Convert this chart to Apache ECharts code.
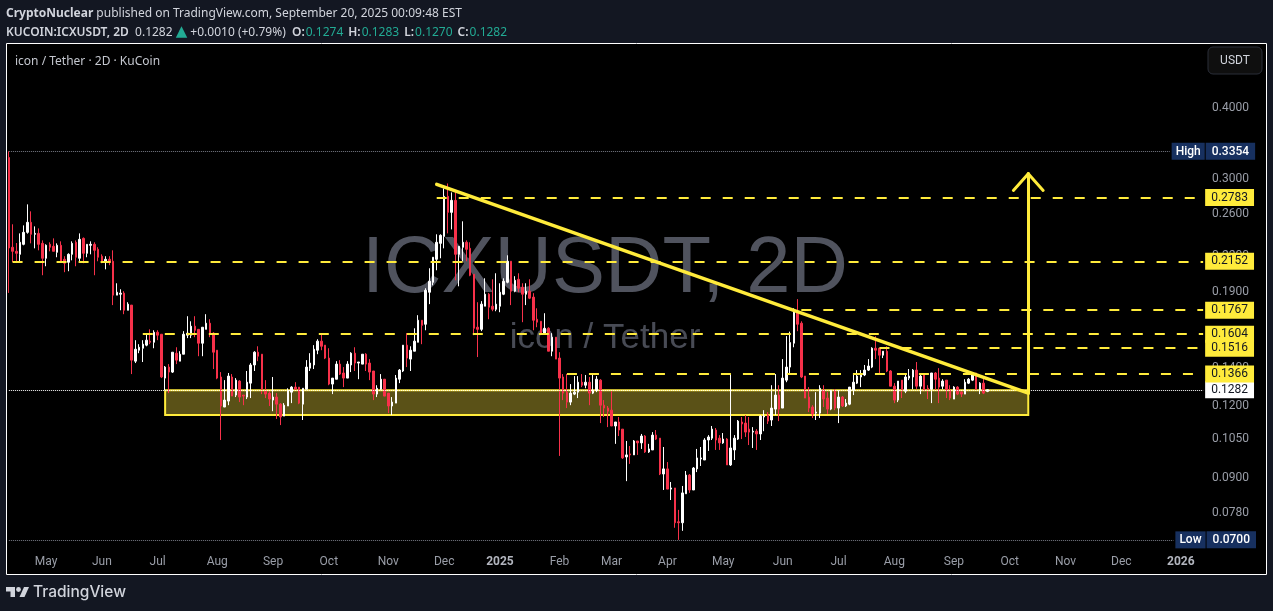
<!DOCTYPE html>
<html>
<head>
<meta charset="utf-8">
<title>ICXUSDT 2D</title>
<script src="https://cdn.jsdelivr.net/npm/echarts@6/dist/echarts.min.js"></script>
<style>
    html, body { margin: 0; padding: 0; background: #131722; }
    #chart { width: 1273px; height: 611px; }
</style>
</head>
<body>
<div id="chart"></div>
<script>
// 2D bars, oldest first
const opens = [
    .3272,.2278,.2241,.2214,.2305,.2419,.2519,.2400,.2409,.2314,
    .2179,.2305,.2287,.2232,.2296,.2170,.2144,.2214,.2324,.2179,
    .2361,.2223,.2296,.2305,.2259,.2197,.2144,.2170,.2153,.1878,
    .1885,.1893,.1767,.1804,.1439,.1504,.1516,.1535,.1560,.1553,
    .1617,.1604,.1344,.1405,.1377,.1486,.1439,.1480,.1598,.1598,
    .1657,.1636,.1547,.1636,.1677,.1611,.1504,.1350,.1196,.1225,
    .1350,.1255,.1328,.1255,.1245,.1317,.1417,.1492,.1480,.1275,
    .1265,.1230,.1245,.1210,.1153,.1201,.1270,.1296,.1296,.1210,
    .1285,.1399,.1417,.1504,.1560,.1535,.1457,.1312,.1338,.1422,
    .1372,.1344,.1417,.1486,.1428,.1422,.1480,.1428,.1383,.1260,
    .1285,.1338,.1265,.1201,.1215,.1338,.1383,.1535,.1451,.1498,
    .1553,.1697,.1670,.1900,.1978,.2170,.2314,.2380,.2797,.2622,
    .2752,.2214,.2278,.2324,.2268,.2043,.1650,.1636,.1796,.1885,
    .1796,.1774,.1796,.1885,.1978,.2153,.1908,.2002,.1938,.1885,
    .1908,.1863,.1704,.1690,.1604,.1643,.1498,.1585,.1457,.1350,
    .1270,.1220,.1260,.1270,.1322,.1306,.1322,.1265,.1280,.1333,
    .1205,.1191,.1181,.1108,.1126,.1094,.0978,.0990,.0986,.1043,
    .1035,.1064,.0998,.1006,.1068,.1055,.0913,.0932,.0859,.0863,
    .0753,.0750,.0843,.0909,.0856,.0932,.0970,.0966,.1047,.1055,
    .1090,.1055,.1035,.1051,.0947,.1006,.1051,.1126,.1121,.1094,
    .1081,.1085,.1073,.1149,.1158,.1135,.1186,.1255,.1191,.1333,
    .1405,.1547,.1760,.1677,.1355,.1245,.1196,.1167,.1167,.1280,
    .1240,.1186,.1280,.1191,.1245,.1201,.1210,.1280,.1317,.1350,
    .1361,.1388,.1405,.1516,.1516,.1474,.1498,.1383,.1301,.1230,
    .1333,.1275,.1344,.1350,.1388,.1301,.1361,.1290,.1285,.1372,
    .1344,.1301,.1333,.1280,.1235,.1296,.1270,.1260,.1317,.1333,
    .1372,.1280,.1317,.1274
];
const closes = [
    .2271,.2241,.2223,.2324,.2419,.2519,.2400,.2409,.2305,.2179,
    .2296,.2278,.2241,.2296,.2153,.2136,.2214,.2314,.2188,.2352,
    .2223,.2305,.2305,.2250,.2188,.2153,.2170,.2144,.1878,.1900,
    .1893,.1767,.1811,.1445,.1510,.1522,.1541,.1566,.1553,.1617,
    .1598,.1350,.1405,.1377,.1492,.1445,.1480,.1604,.1611,.1657,
    .1630,.1547,.1650,.1677,.1604,.1492,.1344,.1201,.1230,.1355,
    .1250,.1333,.1245,.1250,.1322,.1417,.1492,.1468,.1285,.1260,
    .1235,.1245,.1210,.1149,.1205,.1280,.1296,.1285,.1215,.1290,
    .1405,.1428,.1510,.1560,.1528,.1457,.1312,.1344,.1422,.1366,
    .1344,.1422,.1486,.1428,.1434,.1480,.1422,.1377,.1260,.1290,
    .1338,.1250,.1201,.1220,.1344,.1388,.1535,.1457,.1504,.1560,
    .1697,.1663,.1915,.1986,.2188,.2324,.2390,.2797,.2622,.2752,
    .2214,.2287,.2324,.2259,.2035,.1643,.1636,.1811,.1885,.1789,
    .1774,.1811,.1900,.1986,.2153,.1908,.1994,.1931,.1885,.1908,
    .1855,.1697,.1684,.1611,.1643,.1498,.1585,.1451,.1344,.1265,
    .1220,.1265,.1270,.1322,.1306,.1322,.1265,.1280,.1338,.1205,
    .1191,.1176,.1108,.1126,.1090,.0974,.0986,.0986,.1043,.1035,
    .1064,.0998,.1010,.1068,.1051,.0913,.0932,.0859,.0863,.0750,
    .0750,.0846,.0909,.0856,.0935,.0974,.0974,.1047,.1060,.1094,
    .1047,.1035,.1051,.0947,.1014,.1055,.1130,.1117,.1081,.1081,
    .1085,.1073,.1153,.1153,.1130,.1191,.1255,.1186,.1344,.1405,
    .1551,.1755,.1670,.1350,.1240,.1191,.1163,.1172,.1290,.1235,
    .1186,.1280,.1191,.1245,.1201,.1215,.1296,.1322,.1355,.1366,
    .1388,.1411,.1516,.1504,.1474,.1498,.1383,.1301,.1230,.1328,
    .1280,.1350,.1355,.1388,.1301,.1355,.1280,.1285,.1372,.1338,
    .1296,.1328,.1280,.1240,.1296,.1260,.1260,.1322,.1338,.1361,
    .1285,.1317,.1265,.1282
];
const lows = [
    .1895,.2146,.2138,.2143,.2296,.2406,.2314,.2268,.2250,.2035,
    .2110,.2241,.2241,.2188,.2153,.2060,.2068,.2161,.2110,.2153,
    .2136,.2188,.2214,.2035,.2153,.2136,.2084,.2119,.1804,.1878,
    .1767,.1739,.1767,.1366,.1428,.1486,.1434,.1528,.1541,.1516,
    .1566,.1344,.1280,.1265,.1372,.1422,.1439,.1480,.1579,.1579,
    .1585,.1468,.1468,.1636,.1585,.1394,.1338,.1047,.1196,.1205,
    .1250,.1245,.1220,.1205,.1235,.1240,.1383,.1439,.1260,.1240,
    .1201,.1176,.1140,.1112,.1153,.1201,.1215,.1280,.1210,.1135,
    .1285,.1383,.1394,.1480,.1504,.1451,.1306,.1260,.1338,.1361,
    .1296,.1344,.1377,.1383,.1338,.1422,.1383,.1333,.1230,.1245,
    .1280,.1250,.1167,.1158,.1215,.1317,.1377,.1405,.1383,.1498,
    .1553,.1541,.1630,.1811,.1954,.2076,.2179,.2268,.2409,.2448,
    .1994,.1946,.2153,.2153,.2027,.1598,.1463,.1624,.1796,.1704,
    .1760,.1760,.1753,.1878,.1970,.1804,.1900,.1900,.1684,.1804,
    .1848,.1630,.1650,.1598,.1604,.1498,.1468,.1451,.0982,.1230,
    .1191,.1205,.1255,.1240,.1296,.1290,.1205,.1260,.1270,.1121,
    .1149,.1103,.1108,.1031,.1064,.0970,.0887,.0951,.0986,.0986,
    .1010,.0994,.0994,.1006,.1047,.0909,.0856,.0859,.0822,.0735,
    .0700,.0726,.0843,.0846,.0856,.0920,.0943,.0966,.1002,.1047,
    .1006,.1006,.1031,.0947,.0943,.0966,.1047,.1051,.1060,.1026,
    .1014,.1006,.1047,.1085,.1117,.1108,.1158,.1130,.1191,.1322,
    .1372,.1522,.1624,.1344,.1240,.1172,.1144,.1135,.1144,.1196,
    .1163,.1181,.1181,.1121,.1196,.1196,.1205,.1255,.1312,.1296,
    .1355,.1383,.1399,.1451,.1372,.1457,.1377,.1301,.1215,.1220,
    .1240,.1265,.1333,.1285,.1285,.1260,.1275,.1235,.1215,.1280,
    .1215,.1285,.1240,.1230,.1235,.1255,.1245,.1260,.1312,.1328,
    .1280,.1260,.1260,.1270
];
const highs = [
    .3354,.2499,.2317,.2409,.2488,.2708,.2633,.2478,.2458,.2342,
    .2305,.2324,.2361,.2314,.2333,.2197,.2223,.2333,.2342,.2409,
    .2370,.2305,.2333,.2324,.2278,.2214,.2197,.2197,.2250,.1970,
    .1923,.1908,.1825,.1804,.1566,.1541,.1566,.1604,.1636,.1630,
    .1630,.1604,.1411,.1422,.1492,.1522,.1498,.1624,.1725,.1690,
    .1725,.1636,.1650,.1739,.1704,.1617,.1504,.1377,.1333,.1372,
    .1366,.1344,.1333,.1255,.1383,.1428,.1498,.1528,.1480,.1333,
    .1275,.1350,.1265,.1215,.1215,.1290,.1301,.1322,.1296,.1290,
    .1445,.1486,.1535,.1572,.1604,.1535,.1516,.1344,.1439,.1445,
    .1405,.1439,.1492,.1522,.1434,.1480,.1486,.1451,.1383,.1306,
    .1366,.1338,.1265,.1245,.1361,.1394,.1535,.1611,.1528,.1643,
    .1732,.1697,.1931,.2093,.2188,.2400,.2400,.2888,.2946,.2842,
    .2854,.2287,.2529,.2342,.2324,.2043,.1825,.1833,.2010,.1893,
    .2002,.2051,.1970,.2010,.2205,.2153,.2027,.2051,.1970,.1970,
    .2002,.1893,.1781,.1690,.1746,.1650,.1611,.1585,.1492,.1366,
    .1366,.1312,.1355,.1355,.1366,.1361,.1350,.1361,.1355,.1338,
    .1230,.1201,.1275,.1126,.1149,.1094,.1043,.1022,.1047,.1043,
    .1073,.1068,.1031,.1081,.1090,.1055,.1018,.0958,.0884,.0863,
    .0790,.0870,.0924,.0913,.0939,.1010,.1018,.1055,.1068,.1108,
    .1099,.1068,.1077,.1055,.1366,.1068,.1135,.1149,.1158,.1149,
    .1103,.1094,.1158,.1181,.1172,.1306,.1366,.1306,.1451,.1592,
    .1621,.1781,.1848,.1690,.1355,.1296,.1205,.1270,.1306,.1306,
    .1270,.1280,.1285,.1280,.1250,.1235,.1296,.1372,.1388,.1388,
    .1417,.1451,.1522,.1591,.1516,.1498,.1528,.1388,.1317,.1328,
    .1333,.1361,.1394,.1394,.1434,.1361,.1366,.1306,.1372,.1377,
    .1399,.1338,.1333,.1306,.1301,.1301,.1275,.1338,.1344,.1372,
    .1372,.1322,.1344,.1283
];

// time axis: one slot per 2 days, running on past the last bar
const firstBarDate = '2024-04-12';
const slotCount = 322;
const tickDates = ['2024-05-02','2024-06-01','2024-07-01','2024-08-02','2024-09-01','2024-10-01','2024-11-02','2024-12-02',
    '2025-01-01','2025-02-02','2025-03-02','2025-04-01','2025-05-01','2025-06-02','2025-07-02','2025-08-01','2025-09-02',
    '2025-10-02','2025-11-01','2025-12-01','2026-01-02'];
const tickLabels = ['May','Jun','Jul','Aug','Sep','Oct','Nov','Dec','2025','Feb','Mar','Apr','May','Jun','Jul','Aug','Sep','Oct','Nov','Dec','2026'];

// price axis
const priceTicks = [0.4, 0.3, 0.26, 0.22, 0.19, 0.14, 0.12, 0.105, 0.09, 0.078];

// drawn levels
const levelPrices = [0.2783, 0.2152, 0.1767, 0.1604, 0.1516, 0.1366];
const levelStartBars = [115, 1, 213, 36, 234, 150];
const lastPrice = 0.1282;
const highPrice = 0.3354;
const lowPrice = 0.07;

// support zone, trend line and target arrow, as [bar, price]
const zoneBars = [42, 274];
const zonePrices = [0.1280, 0.1158];
const trendLine = [[115, 0.2935], [274, 0.1265]];
const arrowShaft = [[274, 0.1265], [274, 0.3065]];
const arrowHeadLeft = [[270, 0.2865], [274, 0.3065]];
const arrowHeadRight = [[278, 0.2865], [274, 0.3065]];

const categories = [];
for (let i = 0; i < slotCount; i++) {
    categories.push(new Date(Date.parse(firstBarDate) + i * 2 * 86400000).toISOString().slice(0, 10));
}
const lastSlot = categories[slotCount - 1];

const YELLOW = '#ffeb3b';
const TEXT = '#d1d4dc';
const GREEN = '#22ab94';
const candles = opens.map((o, i) => [o, closes[i], lows[i], highs[i]]);

function yellowSegment(pair, width) {
    return [
        {xAxis: categories[pair[0][0]], yAxis: pair[0][1], lineStyle: {color: YELLOW, width: width, type: 'solid', cap: 'round'}, label: {show: false}},
        {xAxis: categories[pair[1][0]], yAxis: pair[1][1]}
    ];
}

function priceTag(text, bg, fg) {
    return {
        show: true, position: 'end', distance: 2, formatter: text,
        color: fg, backgroundColor: bg, padding: [3, 6, 2, 6],
        fontFamily: 'Roboto', fontSize: 12, lineHeight: 12
    };
}

function extremeTag(name, value) {
    return {
        show: true, position: 'end', distance: 2,
        formatter: '{n|' + name + '}{g|}{v|' + value + '}',
        rich: {
            n: {backgroundColor: '#17305f', color: '#fff', fontFamily: 'Roboto', fontSize: 12, fontWeight: 500, padding: [3, 4, 2, 4], lineHeight: 12},
            g: {width: 1},
            v: {backgroundColor: '#17305f', color: '#fff', fontFamily: 'Roboto', fontSize: 12, fontWeight: 500, padding: [3, 6, 2, 6], lineHeight: 12}
        }
    };
}

const levelLines = levelPrices.map((p, i) => [
    {xAxis: categories[levelStartBars[i]], yAxis: p, lineStyle: {color: YELLOW, width: 2, type: [10, 12]},
        label: priceTag(p.toFixed(4), YELLOW, '#131722')},
    {xAxis: lastSlot, yAxis: p}
]);

const option = {
    backgroundColor: '#131722',
    animation: false,
    grid: {left: 7, right: 68, top: 44, bottom: 37},
    xAxis: {
        type: 'category',
        data: categories,
        boundaryGap: true,
        axisLine: {show: false},
        axisTick: {show: false},
        splitLine: {show: false},
        axisLabel: {
            inside: true,
            margin: 6,
            color: '#9a9ea8',
            fontFamily: 'Roboto',
            fontSize: 12,
            interval: (index, value) => tickDates.includes(value),
            formatter: value => {
                let label = tickLabels[tickDates.indexOf(value)];
                return /^\d/.test(label) ? '{b|' + label + '}' : label;
            },
            rich: {b: {color: '#b2b5be', fontFamily: 'Roboto', fontSize: 12, fontWeight: 'bold'}}
        }
    },
    yAxis: {
        type: 'log',
        position: 'right',
        min: 0.061,
        max: 0.517,
        axisLine: {show: false},
        axisTick: {show: false},
        splitLine: {show: false},
        axisLabel: {
            customValues: priceTicks,
            margin: 7,
            color: '#9a9ea8',
            fontFamily: 'Roboto',
            fontSize: 12,
            formatter: v => Number(v).toFixed(4)
        }
    },
    series: [
        {
            type: 'candlestick',
            data: candles,
            barWidth: 2,
            clip: false,
            itemStyle: {color: '#ffffff', borderColor: '#ffffff', color0: '#f7314a', borderColor0: '#f7314a', borderWidth: 1},
            markArea: {
                silent: true,
                itemStyle: {color: '#5a5117', borderColor: YELLOW, borderWidth: 2},
                data: [[
                    {xAxis: categories[zoneBars[0]], yAxis: zonePrices[0]},
                    {xAxis: categories[zoneBars[1]], yAxis: zonePrices[1]}
                ]]
            },
            markLine: {
                silent: true,
                symbol: 'none',
                animation: false,
                data: [
                    [{xAxis: categories[0], yAxis: highPrice, lineStyle: {color: '#787b86', width: 1, type: 'dotted'}, label: extremeTag('High', highPrice.toFixed(4))},
                        {xAxis: categories[312], yAxis: highPrice}],
                    [{xAxis: categories[0], yAxis: lowPrice, lineStyle: {color: '#787b86', width: 1, type: 'dotted'}, label: extremeTag('Low', lowPrice.toFixed(4))},
                        {xAxis: categories[313], yAxis: lowPrice}],
                    [{xAxis: categories[0], yAxis: lastPrice, lineStyle: {color: '#ffffff', width: 1, type: 'dotted'}, label: priceTag(lastPrice.toFixed(4), '#ffffff', '#131722')},
                        {xAxis: lastSlot, yAxis: lastPrice}],
                    ...levelLines,
                    yellowSegment(trendLine, 3.5),
                    yellowSegment(arrowShaft, 3),
                    yellowSegment(arrowHeadLeft, 3),
                    yellowSegment(arrowHeadRight, 3)
                ]
            }
        }
    ],
    graphic: [
        {type: 'rect', z: -2, shape: {x: 6.5, y: 43.5, width: 1260, height: 531}, style: {fill: '#000', stroke: '#fff', lineWidth: 1}},
        {type: 'text', z: -1, x: 605, y: 270, style: {text: 'ICXUSDT, 2D', fill: '#50535e', font: '79.5px "Liberation Sans"', textAlign: 'center', textVerticalAlign: 'middle'}},
        {type: 'text', z: -1, x: 605, y: 338, style: {text: 'icon / Tether', fill: '#484b55', font: '35px "Liberation Sans"', textAlign: 'center', textVerticalAlign: 'middle'}},
        {type: 'text', x: 6, y: 8, style: {
            text: '{b|CryptoNuclear} published on TradingView.com, September 20, 2025 00:09:48 EST',
            fill: TEXT, font: '12px "Noto Sans"',
            rich: {b: {fill: TEXT, font: 'bold 12px "Noto Sans"'}}
        }},
        {type: 'text', x: 6, y: 25, style: {
            text: '{b|KUCOIN:ICXUSDT, 2D}  0.1282 {t|▲} +0.0010 (+0.79%)  {c|O:}{g|0.1274}{c|H:}{g|0.1283}{c|L:}{g|0.1270}{c|C:}{g|0.1282}',
            fill: TEXT, font: '12px "Noto Sans"',
            rich: {
                b: {fill: TEXT, font: '600 12px "Noto Sans"'},
                c: {fill: TEXT, font: '600 12px "Noto Sans"', padding: [0, 1, 0, 0]},
                t: {fill: GREEN, font: '15px "DejaVu Sans"'},
                g: {fill: GREEN, font: '12px "Noto Sans"', padding: [0, 5, 0, 0]}
            }
        }},
        {type: 'text', x: 15, y: 56, style: {text: 'icon / Tether · 2D · KuCoin', fill: '#c4c7cf', font: '12px "Noto Sans"'}},
        {type: 'rect', shape: {x: 1208, y: 47, width: 54, height: 27, r: 5}, style: {fill: '#0f0f0f', stroke: '#2a2e39', lineWidth: 1}},
        {type: 'text', x: 1235, y: 60.5, style: {text: 'USDT', fill: TEXT, font: '12px Roboto', textAlign: 'center', textVerticalAlign: 'middle'}},
        {type: 'polygon', shape: {points: [[6, 587], [15, 587], [15, 597], [10.5, 597], [10.5, 591.5], [6, 591.5]]}, style: {fill: TEXT}},
        {type: 'circle', shape: {cx: 18.5, cy: 589.5, r: 2.4}, style: {fill: TEXT}},
        {type: 'polygon', shape: {points: [[24, 587], [29, 587], [24.5, 597], [19.5, 597]]}, style: {fill: TEXT}},
        {type: 'text', x: 33, y: 592, style: {text: 'TradingView', fill: TEXT, font: '500 15.5px Inter', textVerticalAlign: 'middle'}}
    ]
};

let myChart = echarts.init(document.getElementById('chart'), null, {renderer: 'canvas'});
myChart.setOption(option);
</script>
</body>
</html>
